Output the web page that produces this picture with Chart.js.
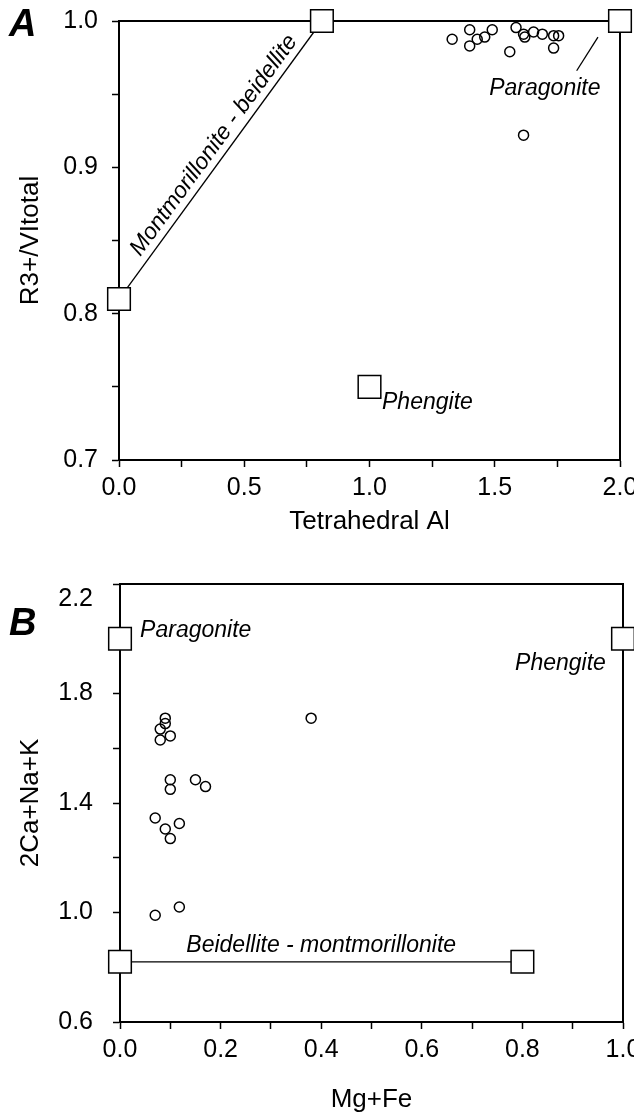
<!DOCTYPE html>
<html>
<head>
<meta charset="utf-8">
<script src="https://cdn.jsdelivr.net/npm/chart.js@4"></script>
<style>
  html, body { margin: 0; background: #fff; overflow: hidden; width: 634px; height: 1117px; }
  .panel { position: absolute; left: 0; width: 650px; }
  .tag { position: absolute; left: 9px; font: italic bold 38px "Liberation Sans", Arial, sans-serif; line-height: 1; }
</style>
</head>
<body>
<div class="panel" style="top:0;height:550px"><canvas id="chartA"></canvas></div>
<div class="panel" style="top:550px;height:567px"><canvas id="chartB"></canvas></div>
<div class="tag" style="top:4px">A</div>
<div class="tag" style="top:603px">B</div>
<script>
// panel A : R3+/VItotal vs tetrahedral Al
const samplesA_x = [1.33, 1.40, 1.40, 1.43, 1.46, 1.49, 1.585, 1.615, 1.62, 1.655, 1.69, 1.735, 1.755, 1.735, 1.56, 1.615];
const samplesA_y = [0.9875, 0.994, 0.983, 0.9875, 0.989, 0.994, 0.9955, 0.991, 0.989, 0.9925, 0.991, 0.990, 0.990, 0.9815, 0.979, 0.922];
const endA_x = [0, 0.81, 2.0, 1.0];
const endA_y = [0.81, 1.0, 1.0, 0.75];
const leaderA_x = [1.912, 1.827];
const leaderA_y = [0.989, 0.966];
const xTicksA = [0, 0.5, 1.0, 1.5, 2.0];
const yTicksA = [0.7, 0.8, 0.9, 1.0];

// panel B : 2Ca+Na+K vs Mg+Fe
const samplesB_x = [0.09, 0.09, 0.08, 0.10, 0.08, 0.10, 0.10, 0.15, 0.17, 0.07, 0.118, 0.09, 0.10, 0.118, 0.07, 0.38];
const samplesB_y = [1.71, 1.69, 1.67, 1.645, 1.63, 1.485, 1.45, 1.485, 1.46, 1.345, 1.325, 1.305, 1.27, 1.02, 0.99, 1.71];
const endB_x = [0, 1.0, 0, 0.8];
const endB_y = [2.0, 2.0, 0.82, 0.82];
const xTicksB = [0, 0.2, 0.4, 0.6, 0.8, 1.0];
const yTicksB = [0.6, 1.0, 1.4, 1.8, 2.2];

const FONT = '"Liberation Sans", Arial, sans-serif';
const pts = (xs, ys) => xs.map((v, i) => ({ x: v, y: ys[i] }));

// frame on top/right + italic labels placed in data units
const annotate = {
  id: 'annotate',
  beforeDatasetsDraw(chart) {
    const { ctx, chartArea: a } = chart;
    ctx.save();
    ctx.strokeStyle = '#000';
    ctx.lineWidth = 2;
    ctx.beginPath();
    ctx.moveTo(a.left, a.top);
    ctx.lineTo(a.right, a.top);
    ctx.lineTo(a.right, a.bottom);
    ctx.stroke();
    ctx.restore();
  },
  afterDatasetsDraw(chart, args, opts) {
    const { ctx, scales: { x, y } } = chart;
    ctx.save();
    ctx.fillStyle = '#000';
    ctx.font = 'italic 23px ' + FONT;
    ctx.textBaseline = 'middle';
    (opts.labels || []).forEach(l => {
      ctx.save();
      ctx.translate(x.getPixelForValue(l.x), y.getPixelForValue(l.y));
      if (l.along) {
        const [p, q] = l.along;
        ctx.rotate(Math.atan2(y.getPixelForValue(q.y) - y.getPixelForValue(p.y),
                              x.getPixelForValue(q.x) - x.getPixelForValue(p.x)));
      }
      ctx.textAlign = l.align || 'center';
      ctx.fillText(l.text, 0, 0);
      ctx.restore();
    });
    ctx.restore();
  }
};

function axis(min, max, step, marks, title, o) {
  return {
    type: 'linear', min: min, max: max,
    border: { color: '#000', width: 2 },
    grid: { drawOnChartArea: false, drawTicks: true, tickLength: 7, tickColor: '#000', tickWidth: 1.5 },
    ticks: {
      stepSize: step, autoSkip: false, maxRotation: 0, color: '#000',
      font: { family: FONT, size: 25 }, padding: o.pad,
      callback: v => {
        if (!marks.some(t => Math.abs(t - v) < 1e-6)) return '';
        const s = v.toFixed(1);
        return o.lowTop && Math.abs(v - max) < 1e-6 ? ['', s] : s;
      }
    },
    title: { display: true, text: title, color: '#000', font: { family: FONT, size: 26 }, padding: o.tpad },
    afterFit: s => {
      // keep the plot box where the reference has it
      if (o.w) { s.width = o.w; s.paddingTop = 0; s.paddingBottom = 0; }
      if (o.h) s.height = o.h;
    }
  };
}

function squares(data) {
  return { data: data, pointStyle: 'rect', pointRadius: 16, pointBackgroundColor: '#fff',
           pointBorderColor: '#000', pointBorderWidth: 1.5, showLine: false, clip: false, order: 0 };
}
function circles(data) {
  return { data: data, pointStyle: 'circle', pointRadius: 5, pointBackgroundColor: 'rgba(0,0,0,0)',
           pointBorderColor: '#000', pointBorderWidth: 1.5, showLine: false, clip: false, order: 1 };
}
function segment(data) {
  return { data: data, showLine: true, pointRadius: 0, borderColor: '#000', borderWidth: 1.3, clip: false, order: 2 };
}

const base = {
  responsive: true, maintainAspectRatio: false, animation: false,
  plugins: { legend: { display: false }, tooltip: { enabled: false } }
};

// canvases are 650 wide; the page cuts them at 634 like the original
const endA = pts(endA_x, endA_y);
new Chart(document.getElementById('chartA'), {
  type: 'scatter',
  data: { datasets: [
    squares(endA),
    circles(pts(samplesA_x, samplesA_y)),
    segment([endA[0], endA[1]]),
    segment(pts(leaderA_x, leaderA_y))
  ] },
  options: Object.assign({}, base, {
    layout: { padding: { top: 21, right: 30, left: 0, bottom: 0 } },
    scales: {
      x: axis(0, 2, 0.25, xTicksA, 'Tetrahedral Al', { pad: 6, tpad: { top: 0, bottom: 13 }, h: 90 }),
      y: axis(0.7, 1.0, 0.05, yTicksA, 'R3+/VItotal', { pad: 14, tpad: { top: 15, bottom: 0 }, w: 119 })
    },
    plugins: Object.assign({}, base.plugins, {
      annotate: { labels: [
        { text: 'Montmorillonite - beidellite', x: 0.379, y: 0.915, along: [endA[0], endA[1]] },
        { text: 'Paragonite', x: 1.70, y: 0.954 },
        { text: 'Phengite', x: 1.05, y: 0.739, align: 'left' }
      ] }
    })
  }),
  plugins: [annotate]
});

const endB = pts(endB_x, endB_y);
new Chart(document.getElementById('chartB'), {
  type: 'scatter',
  data: { datasets: [
    squares(endB),
    circles(pts(samplesB_x, samplesB_y)),
    segment([endB[2], endB[3]])
  ] },
  options: Object.assign({}, base, {
    layout: { padding: { top: 34, right: 27, left: 0, bottom: 0 } },
    scales: {
      x: axis(0, 1, 0.1, xTicksB, 'Mg+Fe', { pad: 6, tpad: { top: 0, bottom: 2 }, h: 95 }),
      y: axis(0.6, 2.2, 0.2, yTicksB, '2Ca+Na+K', { pad: 20, tpad: { top: 15, bottom: 0 }, w: 120, lowTop: true })
    },
    plugins: Object.assign({}, base.plugins, {
      annotate: { labels: [
        { text: 'Paragonite', x: 0.04, y: 2.03, align: 'left' },
        { text: 'Phengite', x: 0.966, y: 1.908, align: 'right' },
        { text: 'Beidellite - montmorillonite', x: 0.40, y: 0.88 }
      ] }
    })
  }),
  plugins: [annotate]
});
</script>
</body>
</html>
